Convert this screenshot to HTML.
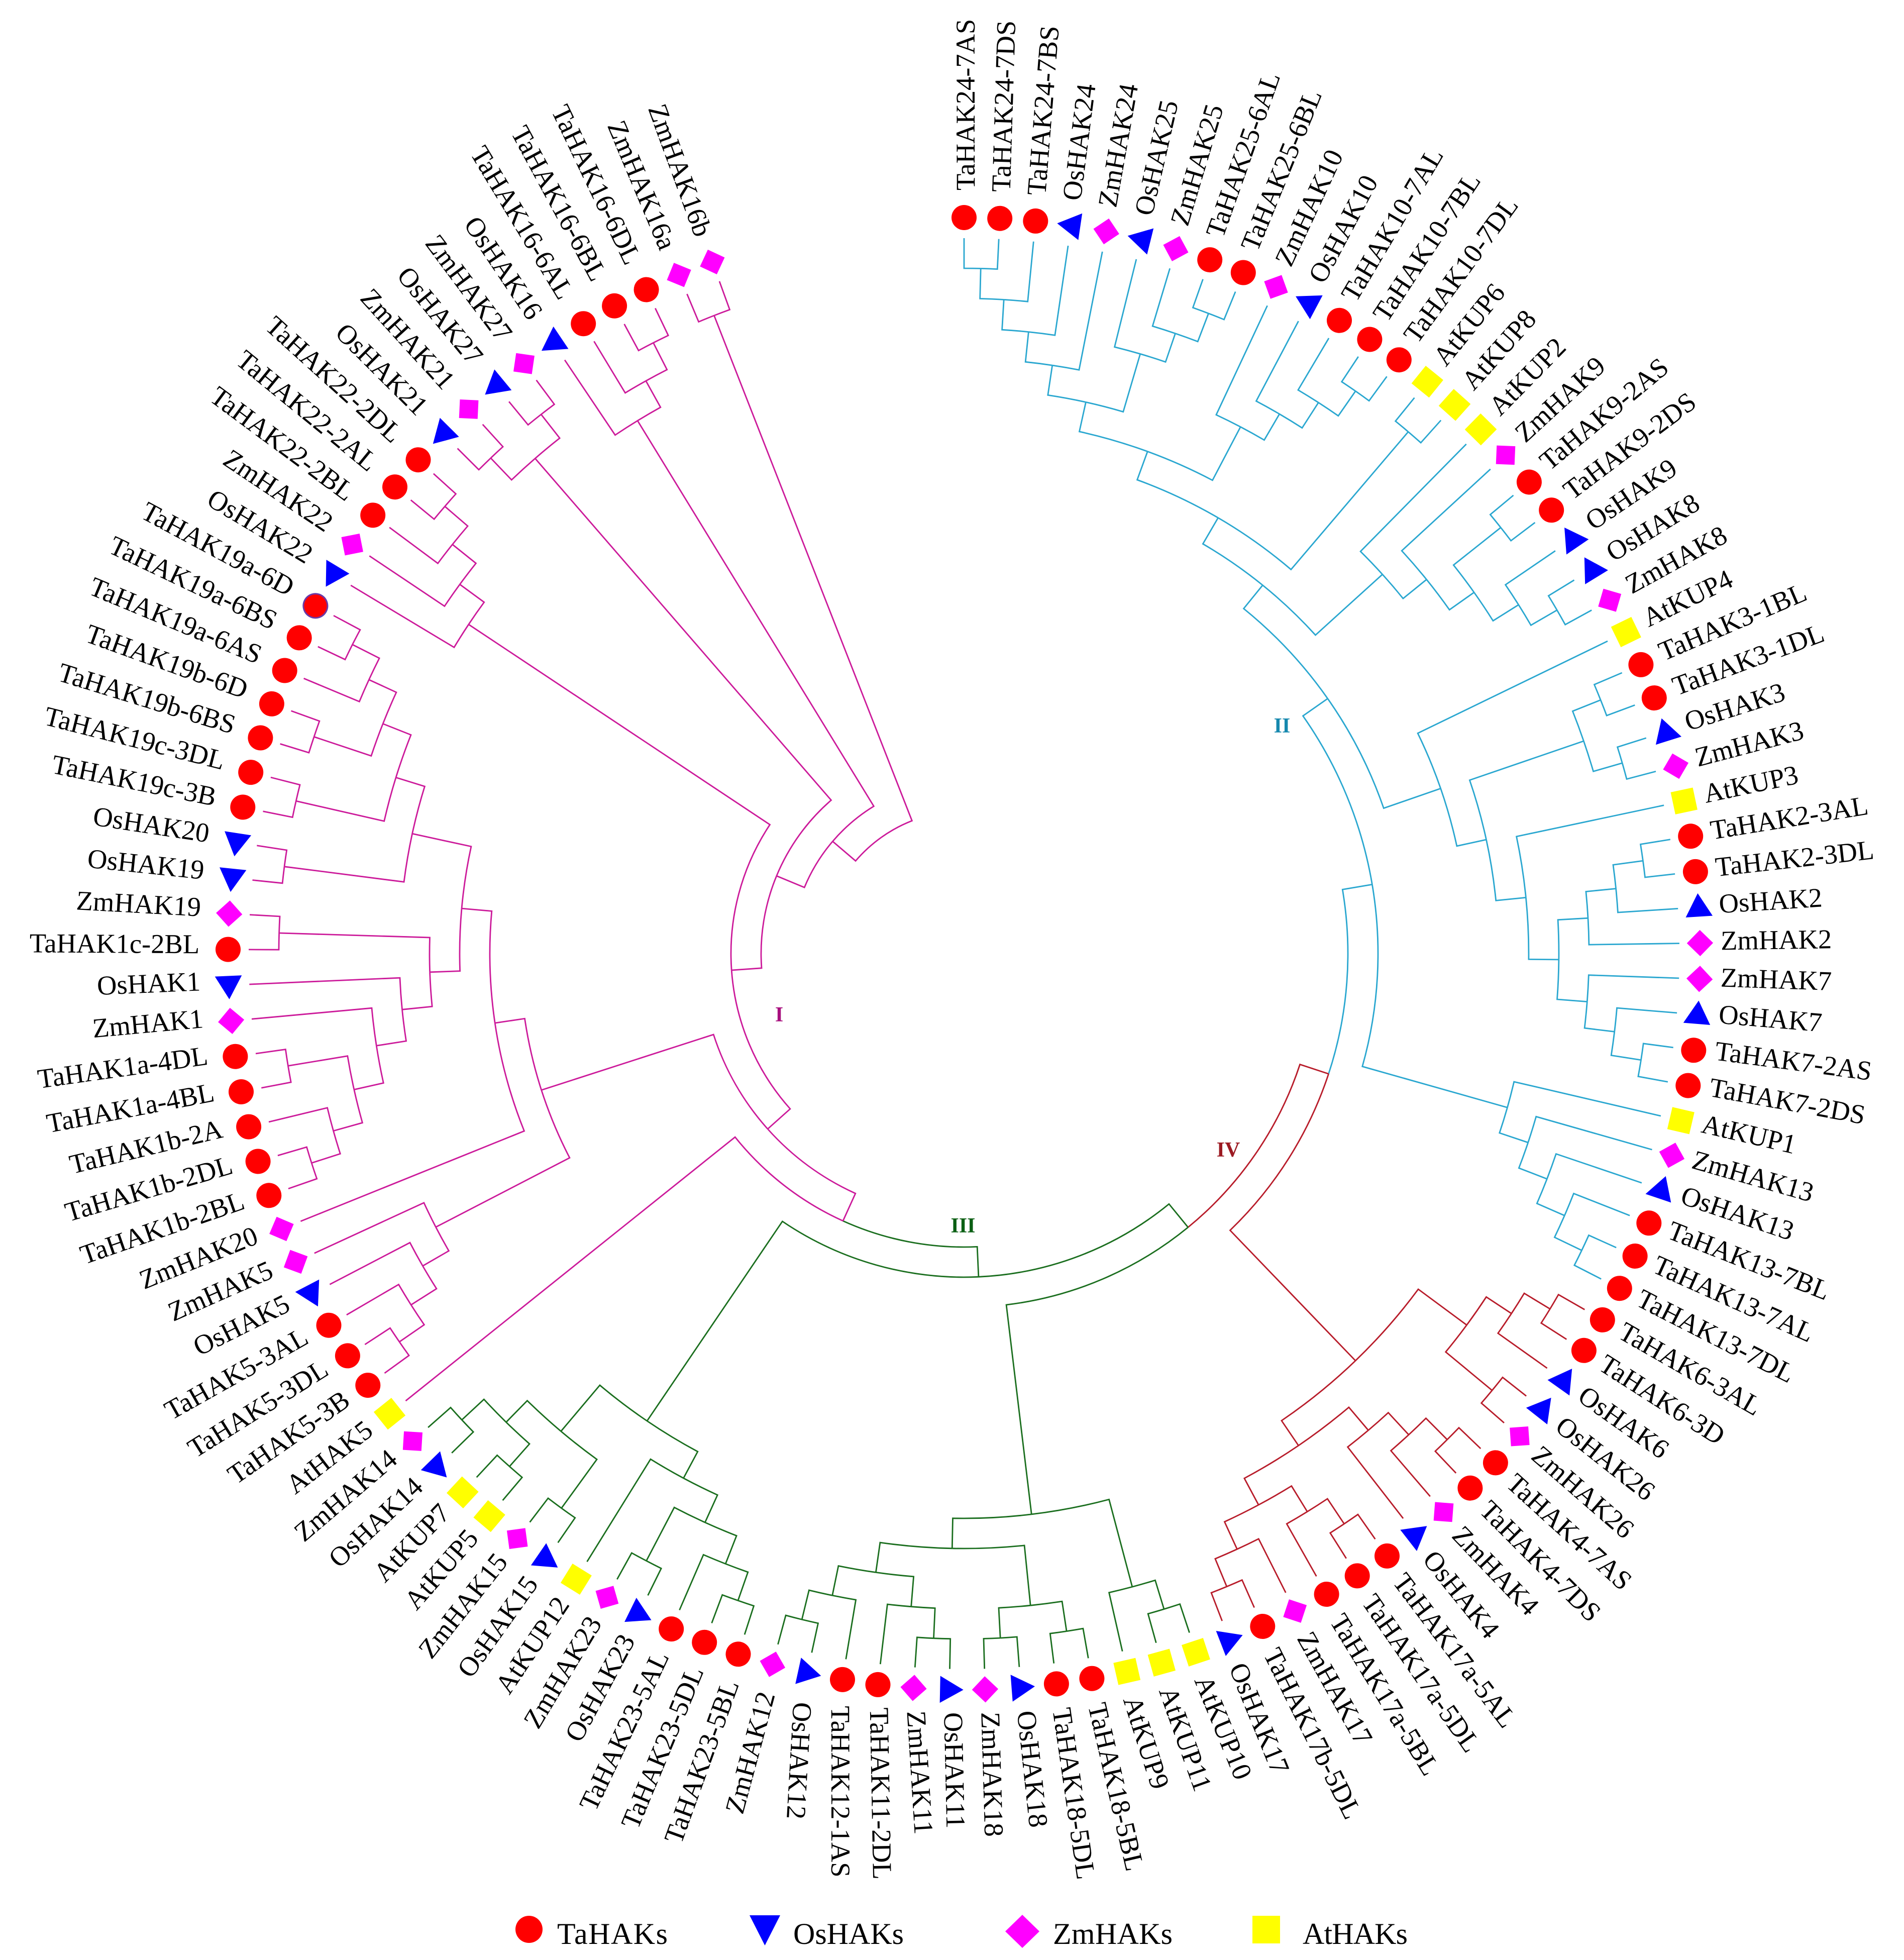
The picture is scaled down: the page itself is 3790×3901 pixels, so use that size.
<!DOCTYPE html>
<html lang="en">
<head>
<meta charset="utf-8">
<title>HAK phylogenetic tree</title>
<style>
html,body{margin:0;padding:0;background:#fff;width:3790px;height:3901px;overflow:hidden}
svg{display:block}
text{font-family:"Liberation Serif",serif;fill:#000}
.roman{font-weight:bold;font-size:42px;text-anchor:middle}
.legend-text{font-size:60px}
</style>
</head>
<body>
<svg id="chart" xmlns="http://www.w3.org/2000/svg" width="3790" height="3901" viewBox="0 0 3790 3901">
<rect width="3790" height="3901" fill="#fff"/>
<g id="branches" fill="none" stroke-width="2.8" stroke-linejoin="miter"></g>
<g id="markers"></g>
<g id="labels"></g>
<text class="roman" x="1551" y="2033" style="fill:#a8107e">I</text>
<text class="roman" x="2552" y="1458" style="fill:#1688ae">II</text>
<text class="roman" x="1917" y="2453" style="fill:#0b5f14">III</text>
<text class="roman" x="2445" y="2302" style="fill:#9c1a22">IV</text>
<g>
<circle cx="1053" cy="3840" r="27" fill="#ff0000"/>
<text class="legend-text" x="1109" y="3869" textLength="220">TaHAKs</text>
<polygon points="1492,3812 1553,3812 1522.5,3872" fill="#0000ff"/>
<text class="legend-text" x="1579" y="3869" textLength="220">OsHAKs</text>
<polygon points="2001,3844 2035,3811 2069,3844 2035,3877" fill="#ff00ff"/>
<text class="legend-text" x="2096" y="3869" textLength="238">ZmHAKs</text>
<rect x="2493" y="3813" width="55" height="55" fill="#ffff00"/>
<text class="legend-text" x="2593" y="3869" textLength="209">AtHAKs</text>
</g>
</svg>
<script>
// ---- data: leaves in clockwise order starting at the top ----
const leafNames = ["TaHAK24-7AS","TaHAK24-7DS","TaHAK24-7BS","OsHAK24","ZmHAK24","OsHAK25","ZmHAK25","TaHAK25-6AL","TaHAK25-6BL","ZmHAK10","OsHAK10","TaHAK10-7AL","TaHAK10-7BL","TaHAK10-7DL","AtKUP6","AtKUP8","AtKUP2","ZmHAK9","TaHAK9-2AS","TaHAK9-2DS","OsHAK9","OsHAK8","ZmHAK8","AtKUP4","TaHAK3-1BL","TaHAK3-1DL","OsHAK3","ZmHAK3","AtKUP3","TaHAK2-3AL","TaHAK2-3DL","OsHAK2","ZmHAK2","ZmHAK7","OsHAK7","TaHAK7-2AS","TaHAK7-2DS","AtKUP1","ZmHAK13","OsHAK13","TaHAK13-7BL","TaHAK13-7AL","TaHAK13-7DL","TaHAK6-3AL","TaHAK6-3D","OsHAK6","OsHAK26","ZmHAK26","TaHAK4-7AS","TaHAK4-7DS","ZmHAK4","OsHAK4","TaHAK17a-5AL","TaHAK17a-5DL","TaHAK17a-5BL","ZmHAK17","TaHAK17b-5DL","OsHAK17","AtKUP10","AtKUP11","AtKUP9","TaHAK18-5BL","TaHAK18-5DL","OsHAK18","ZmHAK18","OsHAK11","ZmHAK11","TaHAK11-2DL","TaHAK12-1AS","OsHAK12","ZmHAK12","TaHAK23-5BL","TaHAK23-5DL","TaHAK23-5AL","OsHAK23","ZmHAK23","AtKUP12","OsHAK15","ZmHAK15","AtKUP5","AtKUP7","OsHAK14","ZmHAK14","AtHAK5","TaHAK5-3B","TaHAK5-3DL","TaHAK5-3AL","OsHAK5","ZmHAK5","ZmHAK20","TaHAK1b-2BL","TaHAK1b-2DL","TaHAK1b-2A","TaHAK1a-4BL","TaHAK1a-4DL","ZmHAK1","OsHAK1","TaHAK1c-2BL","ZmHAK19","OsHAK19","OsHAK20","TaHAK19c-3B","TaHAK19c-3DL","TaHAK19b-6BS","TaHAK19b-6D","TaHAK19a-6AS","TaHAK19a-6BS","TaHAK19a-6D","OsHAK22","ZmHAK22","TaHAK22-2BL","TaHAK22-2AL","TaHAK22-2DL","OsHAK21","ZmHAK21","OsHAK27","ZmHAK27","OsHAK16","TaHAK16-6AL","TaHAK16-6BL","TaHAK16-6DL","ZmHAK16a","ZmHAK16b"];

// clade sizes in leaf order: II, IV, III, I
const cladeSizes = [43, 15, 25, 40];
const cladeNames = ["II", "IV", "III", "I"];

// clades: [depth level, child, child]; bare numbers are indexes into leafNames
const cladeA = [6,[5,[4,[3,[2,[1,0,1],2],3],4],[3,5,[2,6,[1,7,8]]]],[4,9,[3,10,[2,11,[1,12,13]]]]];
const cladeB = [8,[7,cladeA,[1,14,15]],[5,16,[4,17,[3,[1,18,19],[2,20,[1,21,22]]]]]];
const cladeC = [7,23,[6,[2,[1,24,25],[1,26,27]],[5,28,[4,[3,[2,[1,29,30],31],32],[3,33,[2,34,[1,35,36]]]]]]];
const cladeD = [5,37,[4,38,[3,39,[2,40,[1,41,42]]]]];
const cladeII = [10,[9,cladeB,cladeC],cladeD];
const cladeIV = [5,[3,[2,[1,43,44],45],[1,46,47]],[4,[3,[2,[1,48,49],50],51],[3,[2,[1,52,53],54],[2,55,[1,56,57]]]]];
const cladeIIIa = [5,[2,[1,58,59],60],[4,[2,[1,61,62],[1,63,64]],[3,[2,[1,65,66],67],[2,68,[1,69,70]]]]];
const cladeIIIb = [5,[4,[3,[2,[1,71,72],73],[1,74,75]],76],[3,[1,77,78],[2,[1,79,80],[1,81,82]]]];
const cladeE = [4,[3,[2,[1,84,85],86],87],88];
const cladeF = [6,[5,[4,[3,[2,[1,90,91],92],[1,93,94]],95],96],[1,97,98]];
const cladeG = [5,[1,99,100],[4,[1,101,102],[3,[1,103,104],[2,105,[1,106,107]]]]];
const cladeH = [9,cladeE,[8,89,[7,cladeF,cladeG]]];
const cladeJ = [4,108,[3,109,[2,110,[1,111,112]]]];
const cladeK = [2,[1,113,114],[1,115,116]];
const cladeL = [3,117,[2,118,[1,119,120]]];
const cladeM = [1,121,122];
const spine = [15,[14,[13,[12,[11,cladeII,cladeIV],cladeIIIa],cladeIIIb],83],cladeH];
const cladeTree = [19,[18,[17,[16,spine,cladeJ],cladeK],cladeL],cladeM];

// ---- layout & style (not data) ----
const CX = 1919, CY = 1898, RING = 1465;
const STEM_R = 1424, LEVEL_STEP = 60;
const ANGLE_START = 0, ANGLE_SPAN = 340;
const LABEL_GAP = 50;
const FIRST_FLIPPED = 70;
const cladeColor = {II:"#2aa7d0", IV:"#b81c2a", III:"#1a6e1e", I:"#cc1a9a"};
const familyColor = {Ta:"#ff0000", Os:"#0000ff", Zm:"#ff00ff", At:"#ffff00"};
// labels are radial except where hand-rotated in the source figure (degrees off radial, by leaf index)
const labelTilt = {1:-1,2:-1,3:-1,4:-1,5:-1,
  48:-1.5,49:-1.5,50:-3,51:-1,52:-2,53:-2.5,54:-2,55:-2.5,56:-2.5,57:-1,
  58:-4,59:-4,60:-5,61:-3,62:-1,63:-1.7,65:-2.4,66:-7.5,67:-7.8,68:-9.5,69:-9,
  71:2,72:2,73:2,74:2,75:2,76:2,
  77:1,78:1,79:1,80:1,81:1,82:1,83:1,84:1,85:1,86:1,87:1,88:1};
// hand-placement drift of the label anchors around the ring (layout only)
const nudgeAt = [0,10,35,50,67,84,100,120,145,167,178,187,192,205,223,251,270,293,312,329,340,360];
const nudgeX = [3,-8,-8,-10,-8,-10,-6,-6,-5,-2,9,8,1,0,-1,-4,-7,-2,-3,-7,0,3];
const nudgeY = [-4,0,0,-3,-4,-3,-6,-6,0,2,-5,-4,10,0,-5,-8,-10,-10,-11,-11,-6,-4];

// ---- axis functions ----
const SVGNS = "http://www.w3.org/2000/svg";
function angleOf(i){ return ANGLE_START + i * ANGLE_SPAN / (leafNames.length - 1); }
function radiusOf(level){ return STEM_R - LEVEL_STEP * level; }
function px(a, r){ return CX + r * Math.sin(a * Math.PI / 180); }
function py(a, r){ return CY - r * Math.cos(a * Math.PI / 180); }
function cladeOf(i){
  let n = 0;
  for (let k = 0; k < cladeSizes.length; k++){ n += cladeSizes[k]; if (i < n) return cladeNames[k]; }
  return cladeNames[cladeNames.length - 1];
}
function nudge(table, a){
  for (let k = 0; k < nudgeAt.length - 1; k++){
    if (a <= nudgeAt[k + 1]){
      const t = (a - nudgeAt[k]) / (nudgeAt[k + 1] - nudgeAt[k]);
      return table[k] + t * (table[k + 1] - table[k]);
    }
  }
  return table[table.length - 1];
}

const branches = document.getElementById("branches");
const markers = document.getElementById("markers");
const labels = document.getElementById("labels");

function drawEdge(child, parentR, parentA){
  const p = document.createElementNS(SVGNS, "path");
  const sweep = child.a < parentA ? 1 : 0;
  const d = "M" + px(child.a, child.r).toFixed(1) + " " + py(child.a, child.r).toFixed(1) +
    "L" + px(child.a, parentR).toFixed(1) + " " + py(child.a, parentR).toFixed(1) +
    "A" + parentR + " " + parentR + " 0 0 " + sweep + " " + px(parentA, parentR).toFixed(1) + " " + py(parentA, parentR).toFixed(1);
  p.setAttribute("d", d);
  p.setAttribute("stroke", cladeColor[cladeOf(child.last)]);
  
  
  branches.appendChild(p);
}

function layout(node){
  if (typeof node === "number"){
    return {a: angleOf(node), r: radiusOf(0), last: node};
  }
  const kids = node.slice(1).map(layout);
  const a = (kids[0].a + kids[kids.length - 1].a) / 2;
  const r = radiusOf(node[0]);
  kids.forEach(function(k){ drawEdge(k, r, a); });
  return {a: a, r: r, last: kids[kids.length - 1].last};
}
layout(cladeTree);

function drawMarker(i){
  const name = leafNames[i];
  const fam = name.slice(0, 2);
  const a = angleOf(i);
  const tf = "translate(" + px(a, RING).toFixed(1) + " " + py(a, RING).toFixed(1) + ") rotate(" + a.toFixed(2) + ")";
  let el;
  if (fam === "Ta"){
    el = document.createElementNS(SVGNS, "circle");
    el.setAttribute("r", name === "TaHAK19a-6D" ? "24" : "25");
    if (name === "TaHAK19a-6D"){ el.setAttribute("stroke", "#6a3aa8"); el.setAttribute("stroke-width", "3"); }
  } else if (fam === "Os"){
    el = document.createElementNS(SVGNS, "polygon");
    el.setAttribute("points", "-28,0 18.5,-26.8 18.5,26.8");
  } else {
    el = document.createElementNS(SVGNS, "rect");
    const s = fam === "Zm" ? 37 : 45;
    el.setAttribute("x", -s / 2);
    el.setAttribute("y", -s / 2);
    el.setAttribute("width", s);
    el.setAttribute("height", s);
  }
  el.setAttribute("transform", fam === "Zm" ? tf + " rotate(45)" : tf);
  el.setAttribute("fill", familyColor[fam]);
  
  
  markers.appendChild(el);
}

function drawLabel(i){
  const name = leafNames[i];
  const a = angleOf(i);
  const r = RING + LABEL_GAP;
  const flipped = i >= FIRST_FLIPPED;
  const rot = a - (flipped ? 270 : 90) + (labelTilt[i] || 0);
  const t = document.createElementNS(SVGNS, "text");
  t.textContent = name;
  t.setAttribute("font-size", "54.5");
  t.setAttribute("dy", "0.33em");
  t.setAttribute("text-anchor", flipped ? "end" : "start");
  t.setAttribute("transform", "translate(" + (px(a, r) + nudge(nudgeX, a)).toFixed(1) + " " + (py(a, r) + nudge(nudgeY, a)).toFixed(1) + ") rotate(" + rot.toFixed(2) + ")");
  
  
  labels.appendChild(t);
}

leafNames.forEach(function(_, i){ drawMarker(i); drawLabel(i); });
</script>
</body>
</html>
